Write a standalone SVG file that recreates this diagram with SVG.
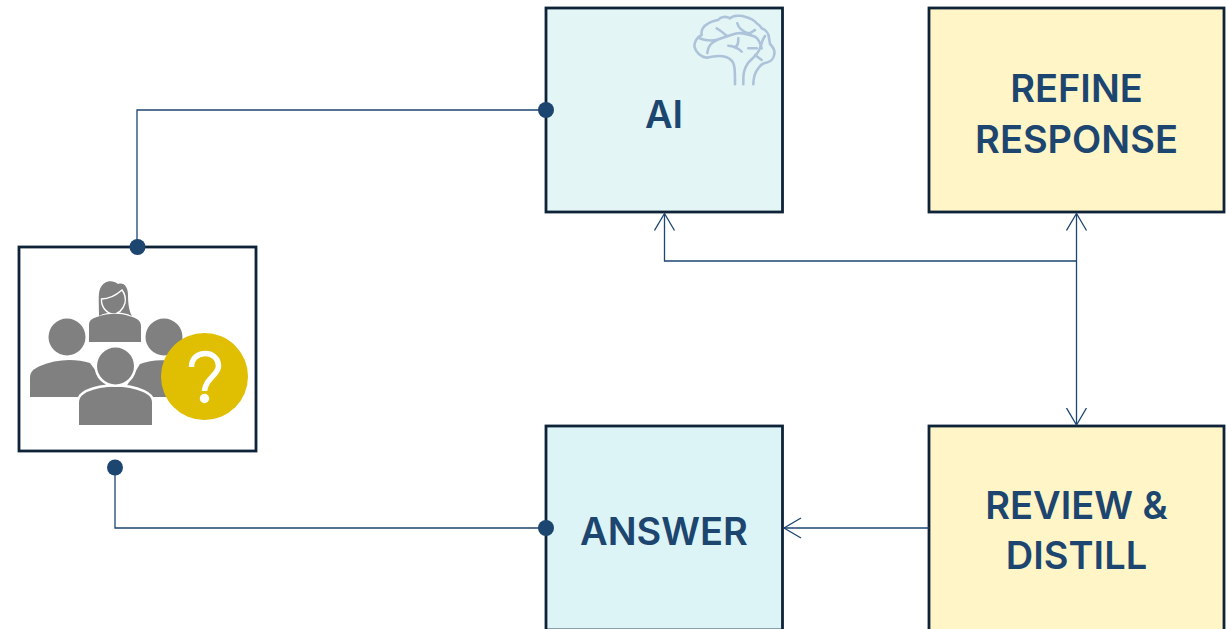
<svg xmlns="http://www.w3.org/2000/svg" width="1227" height="629" viewBox="0 0 1227 629">
<style>
.box{stroke:#0e2238;stroke-width:2.8}
.cn{fill:none;stroke:#1c4570;stroke-width:1.3}
.dot{fill:#1c4570}
.t{font-family:Inter,"Noto Sans",sans-serif;font-weight:600;font-size:38px;fill:#1c4570;text-anchor:middle}
.ic{fill:#808080}
.hl{fill:#808080;stroke:#fff;stroke-width:5;paint-order:stroke}
.br{fill:none;stroke:#adc3da;stroke-width:2.6;stroke-linecap:round;stroke-linejoin:round}
</style>
<defs>
<marker id="open" viewBox="0 0 22 22" refX="17.5" refY="11" markerWidth="22" markerHeight="22" markerUnits="userSpaceOnUse" orient="auto-start-reverse">
<path d="M0.500 1L17.500 11L0.500 21" fill="none" stroke="#1c4570" stroke-width="1.300"/>
</marker>
</defs>
<rect width="1227" height="629" fill="#fff"/>
<g id="node-ai">
<rect class="box" x="546" y="8" width="236.500" height="204" fill="#e4f5f6"/>
<text class="t" x="664" y="128">AI</text>
<g id="brain-icon" class="br">
<path d="M706.700 57.700C701 57 695.500 52 694.500 46.700C694 42 697 37 701.700 35C700.500 30 704 25.500 708.300 23.300C712 21 716 20.500 718 20C721 16.500 726 16 730 18.300C733 15.500 741 15 745 16.700C750 18 755 21 757 23.500C759.500 25 761 27 761.700 28.300C766 30 769 34 769 38C769.500 41 770 43 770 44C773 47 775 51 774.300 54C774 58 771 61.500 767 62.500C763 63 760 65.500 758.300 68.300C755.500 71.500 753.500 77 753.300 84.300"/>
<path d="M706.700 57.700C716 55.500 726 55 731 60C735 63.500 735 70 735 84.300"/>
<path d="M743.300 84.300C743.300 76 743 70 748 63C752 58 758 55 760 48C762 43 762 40 765 36"/>
<path d="M716.700 28.300C722 31 724 34 726.700 35.700"/>
<path d="M707.300 53C708 46 711 43 716.700 40C722 38 728 36 736 33.500C742 32 748 34 755 36.700C759 39 760.500 44 761.700 48.300"/>
<path d="M700 38.500C704 40 710 41 716.700 40"/>
<path d="M737.300 23.300C738.500 28 741 31 748.300 33.300C751 33.500 753 31 755 30"/>
<path d="M728.300 45.700C733 46 737 47 741.700 51.700"/>
<path d="M738.300 38.300C738.500 43 738 46 735 47.300"/>
<path d="M748.300 48.300H756.700"/>
<path d="M755 55L761.700 60"/>
</g>
</g>
<g id="node-refine">
<rect class="box" x="929" y="8" width="295" height="204" fill="#fff5c6"/>
<text class="t" x="1076.500" y="102">REFINE</text>
<text class="t" x="1076.500" y="153">RESPONSE</text>
</g>
<g id="node-review">
<rect class="box" x="929" y="426" width="295" height="206" fill="#fff5c6"/>
<text class="t" x="1076.500" y="519">REVIEW &amp;</text>
<text class="t" x="1076.500" y="569">DISTILL</text>
</g>
<g id="node-answer">
<rect class="box" x="546" y="426" width="236.500" height="204" fill="#dcf4f5"/>
<text class="t" x="664" y="545">ANSWER</text>
</g>
<g id="node-users">
<rect class="box" x="19" y="247" width="237" height="204" fill="#fff"/>
<g id="users-icon">
<path class="ic" d="M99 316C99 303 98 294 100 289C103 281 112 279 118 284C124 282 128 287 128 295C128 303 129 311 132 316C122 311 108 311 99 316Z"/>
<path d="M101.500 299C108 299 114 297 122 290C125 294 126 298 125 303C123 310 118 314 113.500 314C107 314 101 307 101.500 299Z" fill="#808080" stroke="#fff" stroke-width="1.400"/>
<path class="ic" d="M89 342V325C89 320 93 318 97 317C108 313 120 313 129 316C136 318 141 320 141 326V342Z"/>
<circle class="ic" cx="67" cy="337" r="18.500"/>
<circle class="ic" cx="164" cy="337" r="18.500"/>
<path class="ic" d="M30 397V378C30 371 34 369 40 366C55 359 75 358 90 363L115 397Z"/>
<path class="ic" d="M120 397L140 364C150 360 165 359 172 362L180 397Z"/>
<path class="hl" d="M79 425V403C79 397 82 395 87 392C103 385 127 385 143 392C149 395 152 397 152 403V425Z"/>
<circle class="hl" cx="115.500" cy="366" r="18.500"/>
<circle cx="204.500" cy="376.500" r="43.500" fill="#e0bf03"/>
<path d="M191.500 367C191.500 358 198 353.500 205.500 353.500C213 353.500 218.500 359 218.500 366C218.500 375 205 379 204.500 391" fill="none" stroke="#fff" stroke-width="5.500"/>
<circle cx="204.500" cy="398.500" r="4.700" fill="#fff"/>
</g>
</g>
<g id="connectors">
<path class="cn" d="M137 247V110H546"/>
<path class="cn" d="M115 468V528H546"/>
<path class="cn" d="M1076.500 261H664.500V213.500" marker-end="url(#open)"/>
<path class="cn" d="M1076.500 213.500V425" marker-start="url(#open)" marker-end="url(#open)"/>
<path class="cn" d="M929 528H784" marker-end="url(#open)"/>
</g>
<g id="endpoints">
<circle class="dot" cx="137.500" cy="247" r="8"/>
<circle class="dot" cx="115" cy="467.500" r="8"/>
<circle class="dot" cx="546" cy="110" r="8"/>
<circle class="dot" cx="546" cy="528" r="8"/>
</g>
</svg>
